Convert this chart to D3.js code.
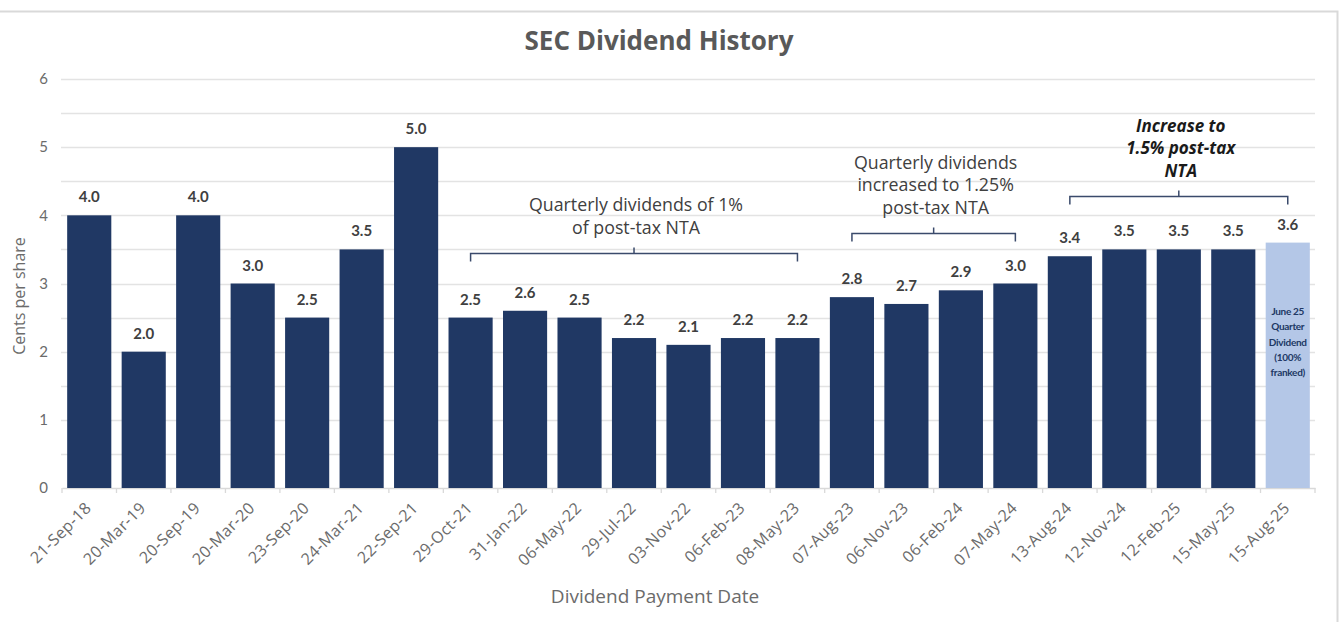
<!DOCTYPE html>
<html>
<head>
<meta charset="utf-8">
<script src="https://cdn.jsdelivr.net/npm/d3@7"></script>
<style>
  body { margin: 0; background: #fff; }
  text { font-family: Lato, "Open Sans", sans-serif; }
  .wide { font-family: "Open Sans", Lato, sans-serif; }
</style>
</head>
<body>
<div id="chart"></div>
<script>
// Data
const dates = ["21-Sep-18", "20-Mar-19", "20-Sep-19", "20-Mar-20", "23-Sep-20", "24-Mar-21", "22-Sep-21",
  "29-Oct-21", "31-Jan-22", "06-May-22", "29-Jul-22", "03-Nov-22", "06-Feb-23", "08-May-23",
  "07-Aug-23", "06-Nov-23", "06-Feb-24", "07-May-24", "13-Aug-24", "12-Nov-24", "12-Feb-25",
  "15-May-25", "15-Aug-25"];
const dividends = [4.0, 2.0, 4.0, 3.0, 2.5, 3.5, 5.0, 2.5, 2.6, 2.5, 2.2, 2.1, 2.2, 2.2,
  2.8, 2.7, 2.9, 3.0, 3.4, 3.5, 3.5, 3.5, 3.6];
const yTicks = [0, 1, 2, 3, 4, 5, 6];
const projectedDate = "15-Aug-25";
const projectedNote = ["June 25", "Quarter", "Dividend", "(100%", "franked)"];

// bracket annotations: first / last category, bracket level (in cents), text lines
const bracketFrom = ["29-Oct-21", "07-Aug-23", "13-Aug-24"];
const bracketTo = ["08-May-23", "07-May-24", "15-Aug-25"];
const bracketLevel = [3.45, 3.74, 4.28];
const bracketText = [
  ["Quarterly dividends of 1%", "of post-tax NTA"],
  ["Quarterly dividends", "increased to 1.25%", "post-tax NTA"],
  ["Increase to", "1.5% post-tax", "NTA"]
];

const width = 1341;
const height = 622;
const margin = { top: 79, right: 25, bottom: 134, left: 62 };

const svg = d3.select("#chart")
  .append("svg")
  .attr("width", width)
  .attr("height", height)
  .style("display", "block");

// frame
svg.append("path")
  .attr("d", `M0,11.5H1337.5V${height}`)
  .attr("fill", "none")
  .attr("stroke", "#d9d9d9")
  .attr("stroke-width", 2);

const x = d3.scaleBand()
  .domain(dates)
  .range([margin.left, width - margin.right - 1])
  .paddingInner(0.19)
  .paddingOuter(0.095);

const y = d3.scaleLinear()
  .domain([0, 6])
  .range([height - margin.bottom, margin.top]);

// gridlines every 0.5
svg.append("g")
  .selectAll("line")
  .data(d3.range(0.5, 6.01, 0.5))
  .enter()
  .append("line")
  .attr("x1", margin.left - 1)
  .attr("x2", width - margin.right - 1)
  .attr("y1", d => Math.round(y(d)) + 0.5)
  .attr("y2", d => Math.round(y(d)) + 0.5)
  .attr("stroke", "#e3e3e3")
  .attr("stroke-width", 1.3);

// Y axis labels
const yAxis = svg.append("g")
  .attr("transform", `translate(${margin.left},0)`)
  .call(d3.axisLeft(y).tickValues(yTicks).tickSize(0).tickPadding(14).tickFormat(d3.format("d")));
yAxis.select(".domain").remove();
yAxis.selectAll("text")
  .style("font-size", "15px")
  .attr("fill", "#6b6b6b");

// X axis
const xAxis = svg.append("g")
  .attr("transform", `translate(0,${y(0)})`)
  .call(d3.axisBottom(x).tickSize(0));
xAxis.select(".domain").attr("stroke", "#d9d9d9").attr("stroke-width", 1.5);
xAxis.selectAll(".tick line").remove();
xAxis.selectAll("text")
  .attr("class", "wide")
  .attr("transform", "translate(3,21) rotate(-45)")
  .attr("dy", 0)
  .attr("x", 0)
  .attr("y", 0)
  .style("text-anchor", "end")
  .style("font-size", "16px")
  .style("letter-spacing", "0.4px")
  .attr("fill", "#6b6b6b");

// boundary ticks between bands
const step = x.step();
svg.append("g")
  .selectAll("line")
  .data(d3.range(dates.length + 1))
  .enter()
  .append("line")
  .attr("x1", i => margin.left + i * step)
  .attr("x2", i => margin.left + i * step)
  .attr("y1", y(0))
  .attr("y2", y(0) + 5)
  .attr("stroke", "#d9d9d9")
  .attr("stroke-width", 1.3);

// Bars
svg.selectAll(".bar")
  .data(dates)
  .enter()
  .append("rect")
  .attr("class", "bar")
  .attr("x", (d, i) => x(d))
  .attr("y", (d, i) => y(dividends[i]))
  .attr("width", x.bandwidth())
  .attr("height", (d, i) => y(0) - y(dividends[i]))
  .attr("fill", d => d === projectedDate ? "#b4c7e7" : "#203864");

// Value labels
svg.selectAll(".val")
  .data(dates)
  .enter()
  .append("text")
  .attr("class", "val")
  .attr("x", d => x(d) + x.bandwidth() / 2)
  .attr("y", (d, i) => y(dividends[i]) - 13)
  .attr("text-anchor", "middle")
  .style("font-size", "15px")
  .style("font-weight", "bold")
  .attr("fill", "#404040")
  .text((d, i) => dividends[i].toFixed(1));

// note inside the projected bar
svg.append("g")
  .selectAll("text")
  .data(projectedNote)
  .enter()
  .append("text")
  .attr("x", x(projectedDate) + x.bandwidth() / 2)
  .attr("y", (d, i) => 315 + i * 15.3)
  .attr("text-anchor", "middle")
  .style("font-size", "10px")
  .style("font-weight", "bold")
  .style("letter-spacing", "-0.3px")
  .attr("fill", "#203864")
  .text(d => d);

// Brackets and their text
bracketFrom.forEach((from, k) => {
  const x1 = x(from) + x.bandwidth() / 2;
  const x2 = x(bracketTo[k]) + x.bandwidth() / 2;
  const xm = (x1 + x2) / 2;
  const by = Math.round(y(bracketLevel[k])) + 0.5;
  svg.append("path")
    .attr("d", `M${x1},${by + 8}V${by}H${x2}V${by + 8}M${xm},${by}V${by - 6}`)
    .attr("fill", "none")
    .attr("stroke", "#3a4a6b")
    .attr("stroke-width", 1.5);

  const lines = bracketText[k];
  const bold = k === 2;
  const lineH = 22.5;
  const lastBase = by - 20;
  lines.forEach((t, j) => {
    svg.append("text")
      .attr("class", "wide")
      .attr("x", xm + 2)
      .attr("y", lastBase - (lines.length - 1 - j) * lineH)
      .attr("text-anchor", "middle")
      .style("font-size", bold ? "17px" : "17.8px")
      .style("font-weight", bold ? "bold" : "normal")
      .style("font-style", bold ? "italic" : "normal")
      .attr("fill", bold ? "#1a1a1a" : "#404040")
      .text(t);
  });
});

// Title
svg.append("text")
  .attr("class", "wide")
  .attr("x", 659)
  .attr("y", 50)
  .attr("text-anchor", "middle")
  .style("font-size", "26px")
  .style("font-weight", "bold")
  .attr("fill", "#595959")
  .text("SEC Dividend History");

// Y axis title
svg.append("text")
  .attr("class", "wide")
  .attr("transform", "rotate(-90)")
  .attr("x", -296)
  .attr("y", 25)
  .attr("text-anchor", "middle")
  .style("font-size", "16px")
  .attr("fill", "#6b6b6b")
  .text("Cents per share");

// X axis title
svg.append("text")
  .attr("class", "wide")
  .attr("x", 655)
  .attr("y", 603)
  .attr("text-anchor", "middle")
  .style("font-size", "19px")
  .attr("fill", "#6b6b6b")
  .text("Dividend Payment Date");
</script>
</body>
</html>
